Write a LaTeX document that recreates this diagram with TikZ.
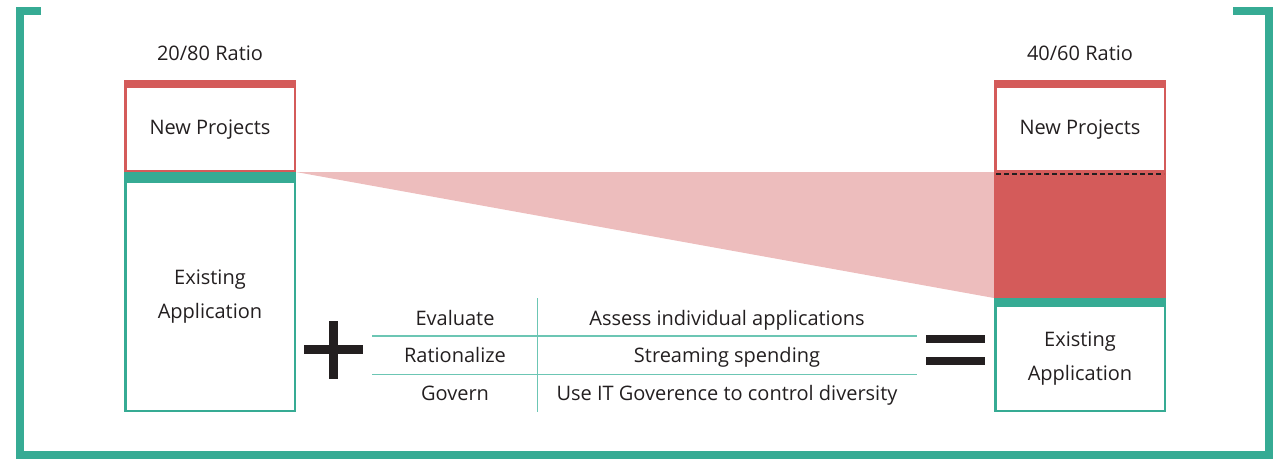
\documentclass[tikz,border=0pt]{standalone}
\usepackage{fontspec}
\setmainfont{Open Sans}
\definecolor{teal}{HTML}{36AB94}
\definecolor{redc}{HTML}{D45B5A}
\definecolor{pinkc}{HTML}{EDBDBD}
\definecolor{ink}{HTML}{231F20}
\definecolor{rule}{HTML}{6CC6B4}
\begin{document}
\begin{tikzpicture}[x=1pt,y=-1pt,
  txt/.style={text=ink,font=\fontsize{20}{24}\selectfont,inner sep=0pt,anchor=base},
  frameline/.style={draw=teal,line width=8pt},
  redbox/.style={draw=redc,line width=2.5pt},
  grnbox/.style={draw=teal,line width=2.5pt},
  tblrule/.style={draw=rule,line width=1.2pt}]
\useasboundingbox (0,0) rectangle (1277,459);
% outer frame
\draw[frameline] (41,11) -- (20,11) -- (20,455) -- (1269,455) -- (1269,11) -- (1233,11);
% pink wedge
\fill[pinkc] (296,172) -- (994,172) -- (994,298) -- cycle;
% left column
\draw[redbox] (125.25,84) rectangle (294.75,171);
\fill[redc] (124,80) rectangle (296,88);
\fill[teal] (124,172) rectangle (296,182);
\draw[grnbox] (125.25,182) rectangle (294.75,410.75);
% right column
\draw[redbox] (995.25,84) rectangle (1164.75,171);
\fill[redc] (994,80) rectangle (1166,88);
\fill[redc] (994,172) rectangle (1166,298);
\draw[ink,line width=2pt,dash pattern=on 5pt off 3pt] (996,173.5) -- (1164,173.5);
\fill[teal] (994,298) rectangle (1166,306);
\draw[grnbox] (995.25,306) rectangle (1164.75,410.75);
% texts
\node[txt] (r1) at (210,60) {20/80 Ratio};
\node[txt] (r2) at (1080,60) {40/60 Ratio};
\node[txt] (np1) at (210,134) {New Projects};
\node[txt] (np2) at (1080,134) {New Projects};
\node[txt] (ea1a) at (210,284) {Existing};
\node[txt] (ea1b) at (210,318) {Application};
\node[txt] (ea2a) at (1080,346.5) {Existing};
\node[txt] (ea2b) at (1080,380.5) {Application};
% plus
\fill[ink] (304,345) rectangle (363,353.5);
\fill[ink] (329,321) rectangle (338,379);
% equals
\fill[ink] (926,335) rectangle (985,343);
\fill[ink] (926,357) rectangle (985,365);
% table
\coordinate (tl1) at (372,336);
\coordinate (tr1) at (917,336);
\coordinate (tl2) at (372,374.5);
\coordinate (tr2) at (917,374.5);
\coordinate (vt) at (537.5,298);
\coordinate (vb) at (537.5,412);
\draw[tblrule] (tl1) -- (tr1);
\draw[tblrule] (tl2) -- (tr2);
\draw[tblrule] (vt) -- (vb);
\node[txt] (c11) at (455,325) {Evaluate};
\node[txt] (c21) at (455,362.5) {Rationalize};
\node[txt] (c31) at (455,400.5) {Govern};
\node[txt] (c12) at (727,325) {Assess individual applications};
\node[txt] (c22) at (727,362.5) {Streaming spending};
\node[txt] (c32) at (727,400.5) {Use IT Goverence to control diversity};
\end{tikzpicture}
\end{document}
